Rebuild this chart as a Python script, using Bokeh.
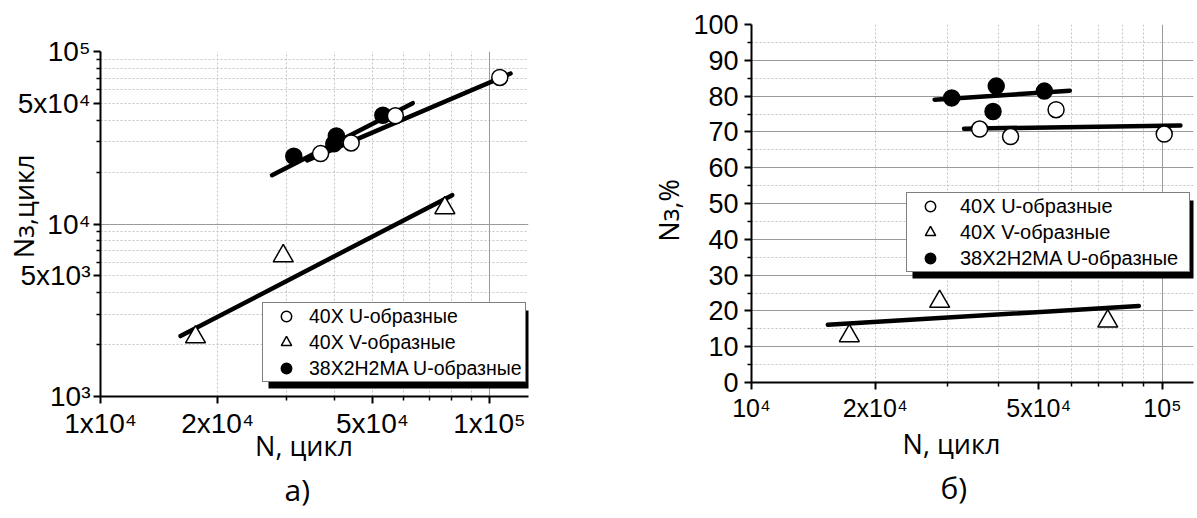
from bokeh.plotting import figure
from bokeh.layouts import row, column
from bokeh.models import FixedTicker, Grid, Legend, LegendItem, Title, BoxAnnotation
from bokeh.embed import file_html
from bokeh.resources import INLINE

# ---------------- data: panel a) (log-log) ----------------
a_N_U = [3.68e4, 4.41e4, 5.73e4, 1.063e5]
a_Nz_U = [2.56e4, 2.95e4, 4.24e4, 7.07e4]
a_N_V = [1.755e4, 2.95e4, 7.68e4]
a_Nz_V = [2.21e3, 6.52e3, 1.24e4]
a_N_M = [3.14e4, 4.04e4, 3.98e4, 5.32e4]
a_Nz_M = [2.47e4, 3.24e4, 2.92e4, 4.27e4]
a_fit_U_N = [3.40e4, 1.133e5]
a_fit_U_Nz = [2.34e4, 7.45e4]
a_fit_V_N = [1.606e4, 8.02e4]
a_fit_V_Nz = [2.24e3, 1.47e4]
a_fit_M_N = [2.76e4, 6.35e4]
a_fit_M_Nz = [1.92e4, 5.02e4]

# ---------------- data: panel б) (percent) ----------------
b_N_U = [3.59e4, 4.27e4, 5.51e4, 1.01e5]
b_P_U = [70.8, 68.7, 76.2, 69.4]
b_N_V = [1.73e4, 2.87e4, 7.36e4]
b_P_V = [13.0, 22.6, 17.1]
b_N_M = [3.07e4, 3.94e4, 3.87e4, 5.16e4]
b_P_M = [79.5, 82.8, 75.7, 81.4]
b_fit_U_N = [3.29e4, 1.106e5]
b_fit_U_P = [70.9, 71.8]
b_fit_V_N = [1.534e4, 8.76e4]
b_fit_V_P = [16.1, 21.4]
b_fit_M_N = [2.79e4, 5.95e4]
b_fit_M_P = [79.0, 81.5]

# ---------------- ticks / labels ----------------
legend_labels = ["40X U-образные", "40X V-образные", "38X2H2MA U-образные"]

a_x_major = [1e4, 2e4, 5e4, 1e5]
a_x_labels = ["1x10⁴", "2x10⁴", "5x10⁴", "1x10⁵"]
a_x_minor = [3e4, 4e4, 6e4, 7e4, 8e4, 9e4]
a_y_major = [1e3, 5e3, 1e4, 5e4, 1e5]
a_y_labels = ["10³", "5x10³", "10⁴", "5x10⁴", "10⁵"]
a_y_minor = [2e3, 3e3, 4e3, 6e3, 7e3, 8e3, 9e3, 2e4, 3e4, 4e4, 6e4, 7e4, 8e4, 9e4]

b_x_major = [1e4, 2e4, 5e4, 1e5]
b_x_labels = ["10⁴", "2x10⁴", "5x10⁴", "10⁵"]
b_x_minor = [3e4, 4e4, 6e4, 7e4, 8e4, 9e4]
b_y_major = [0, 10, 20, 30, 40, 50, 60, 70, 80, 90, 100]
b_y_minor = [5, 15, 25, 35, 45, 55, 65, 75, 85, 95]

x_title = "N, цикл"
a_y_title = "Nз,цикл"
b_y_title = "Nз,%"
a_caption = "а)"
b_caption = "б)"

TICK_FONT = "Liberation Sans"
TITLE_FONT = "Open Sans"
SOLID = "#9a9a9a"
DOT = "#c4c4c4"
NB = "\u00a0"

# legend geometry (screen px from the frame's lower-left corner)
LEG_PAD_L, LEG_GLYPH_W, LEG_ROW, LEG_SHADOW = 8, 30, 26, 6


def style_axis(ax, size, standoff):
    ax.axis_line_width = 2
    ax.axis_line_color = "black"
    ax.major_tick_line_width = 2
    ax.minor_tick_line_width = 1.5
    ax.major_tick_line_color = "black"
    ax.minor_tick_line_color = "black"
    ax.major_tick_out = 7
    ax.major_tick_in = 0
    ax.minor_tick_out = 4
    ax.minor_tick_in = 0
    ax.major_label_standoff = standoff
    ax.major_label_text_font = TICK_FONT
    ax.major_label_text_font_size = f"{size}px"
    ax.major_label_text_color = "black"


def title_axis(ax, text, standoff):
    ax.axis_label = text
    ax.axis_label_text_font = TITLE_FONT
    ax.axis_label_text_font_size = "27px"
    ax.axis_label_text_font_style = "normal"
    ax.axis_label_text_color = "black"
    ax.axis_label_standoff = standoff


def add_grid(p, dim, ticks, color, dash, width=1):
    p.add_layout(Grid(dimension=dim, ticker=FixedTicker(ticks=ticks),
                      grid_line_color=color, grid_line_dash=dash,
                      grid_line_width=width))


def add_legend(p, renderers, loc, standoff, label_width, font_size):
    n = len(legend_labels)
    w = LEG_PAD_L + LEG_GLYPH_W + standoff + label_width
    h = n * LEG_ROW
    s = LEG_SHADOW
    p.add_layout(BoxAnnotation(left=loc[0] + s, right=loc[0] + w + s,
                               bottom=loc[1] - s, top=loc[1] + h - s,
                               left_units="screen", right_units="screen",
                               top_units="screen", bottom_units="screen",
                               fill_color="black", fill_alpha=1,
                               line_color=None))
    items = [LegendItem(label=l, renderers=[r]) for l, r in zip(legend_labels, renderers)]
    p.add_layout(Legend(items=items, location=loc,
                        label_text_font=TICK_FONT, label_text_font_size=font_size,
                        label_text_color="black", label_width=label_width,
                        label_height=LEG_ROW,
                        glyph_width=LEG_GLYPH_W, glyph_height=LEG_ROW,
                        spacing=0,
                        padding=dict(left=LEG_PAD_L, right=0, top=0, bottom=0),
                        label_standoff=standoff, margin=0,
                        border_line_color="black", border_line_width=1.5,
                        background_fill_color="white", background_fill_alpha=1))


def add_caption(p, text, offset):
    p.add_layout(Title(text=text, align="left", offset=offset, standoff=0,
                       text_font=TITLE_FONT, text_font_size="30px",
                       text_font_style="normal", text_color="black"), "below")


def draw_panel(p, NU, YU, NV, YV, NM, YM, fU, fUy, fV, fVy, fM, fMy):
    for fx, fy in ((fU, fUy), (fV, fVy), (fM, fMy)):
        p.line(fx, fy, line_color="black", line_width=4.5, line_cap="round")
    rM = p.scatter(NM, YM, marker="circle", size=16, fill_color="black",
                   line_color="black", line_width=1.5)
    rU = p.scatter(NU, YU, marker="circle", size=16, fill_color="white",
                   line_color="black", line_width=1.5)
    rV = p.scatter(NV, YV, marker="triangle", size=20, fill_color="white",
                   line_color="black", line_width=1.5)
    return [rU, rV, rM]


# ---------------- panel a) ----------------
p1 = figure(width=598, height=518, x_axis_type="log", y_axis_type="log",
            x_range=(1e4, 1.26e5), y_range=(1e3, 1e5),
            output_backend="svg", toolbar_location=None,
            min_border_left=100, min_border_right=70,
            min_border_top=51, min_border_bottom=122)
p1.outline_line_color = None
p1.xgrid.grid_line_color = None
p1.ygrid.grid_line_color = None
add_grid(p1, 0, a_x_major[1:3] + a_x_minor, DOT, "2 2")
add_grid(p1, 1, [t for t in a_y_minor + a_y_major if t not in (1e3, 1e4, 1e5)], DOT, "2 2")
add_grid(p1, 0, [1e5], SOLID, "solid")
add_grid(p1, 1, [1e4], SOLID, "solid")
p1.xaxis.ticker = FixedTicker(ticks=a_x_major, minor_ticks=a_x_minor)
p1.yaxis.ticker = FixedTicker(ticks=a_y_major, minor_ticks=a_y_minor)
p1.xaxis.major_label_overrides = {float(t): l for t, l in zip(a_x_major, a_x_labels)}
p1.yaxis.major_label_overrides = {float(t): l for t, l in zip(a_y_major, a_y_labels)}
style_axis(p1.xaxis[0], 28, 4)
style_axis(p1.yaxis[0], 28, 3)
title_axis(p1.xaxis[0], x_title + NB * 3, -15)
title_axis(p1.yaxis[0], NB * 5 + a_y_title, -27)
r1 = draw_panel(p1, a_N_U, a_Nz_U, a_N_V, a_Nz_V, a_N_M, a_Nz_M,
                a_fit_U_N, a_fit_U_Nz, a_fit_V_N, a_fit_V_Nz, a_fit_M_N, a_fit_M_Nz)
add_legend(p1, r1, (162, 14), 8, 216, "19.5px")
add_caption(p1, a_caption, 184)

# ---------------- panel б) ----------------
p2 = figure(width=599, height=518, x_axis_type="log",
            x_range=(1e4, 1.19e5), y_range=(0, 100),
            output_backend="svg", toolbar_location=None,
            min_border_left=153, min_border_right=4,
            min_border_top=24, min_border_bottom=136)
p2.outline_line_color = None
p2.xgrid.grid_line_color = None
p2.ygrid.grid_line_color = None
add_grid(p2, 0, b_x_major[1:3] + b_x_minor, DOT, "2 2")
add_grid(p2, 1, b_y_minor, DOT, "2 2")
add_grid(p2, 0, [1e5], SOLID, "solid")
add_grid(p2, 1, b_y_major[1:-1], SOLID, "solid")
p2.xaxis.ticker = FixedTicker(ticks=b_x_major, minor_ticks=b_x_minor)
p2.yaxis.ticker = FixedTicker(ticks=b_y_major, minor_ticks=b_y_minor)
p2.xaxis.major_label_overrides = {float(t): l for t, l in zip(b_x_major, b_x_labels)}
style_axis(p2.xaxis[0], 25, 4)
style_axis(p2.yaxis[0], 27, 6)
title_axis(p2.xaxis[0], x_title + NB * 6, 0)
title_axis(p2.yaxis[0], b_y_title + NB * 2, 3)
r2 = draw_panel(p2, b_N_U, b_P_U, b_N_V, b_P_V, b_N_M, b_P_M,
                b_fit_U_N, b_fit_U_P, b_fit_V_N, b_fit_V_P, b_fit_M_N, b_fit_M_P)
add_legend(p2, r2, (155, 110), 15, 229, "20px")
add_caption(p2, b_caption, 189)

layout = row(column(p1), column(p2))
open("out.html", "w").write(file_html(layout, INLINE))
